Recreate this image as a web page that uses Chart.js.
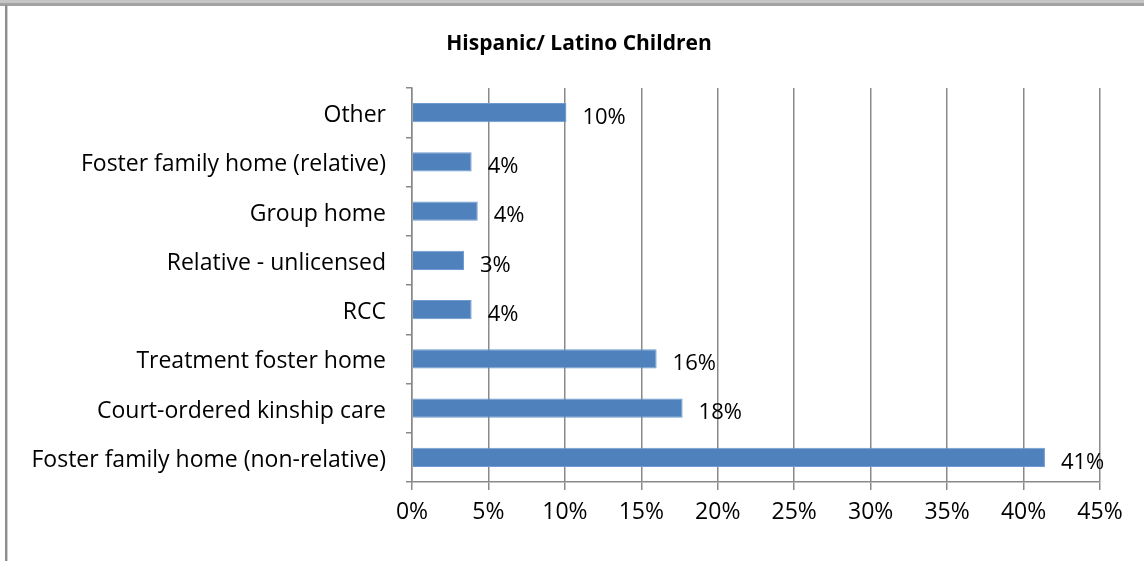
<!DOCTYPE html>
<html>
<head>
<meta charset="utf-8">
<script src="https://cdn.jsdelivr.net/npm/chart.js@4.4.1/dist/chart.umd.min.js"></script>
<style>
  html, body { margin: 0; padding: 0; background: #fff; }
  #wrap { width: 1144px; height: 561px; }
</style>
</head>
<body>
<div id="wrap"><canvas id="placementChart" width="1144" height="561"></canvas></div>
<script>
// placement types, top to bottom
var placementLabels = [
     'Other',
     'Foster family home (relative)',
     'Group home',
     'Relative - unlicensed',
     'RCC',
     'Treatment foster home',
     'Court-ordered kinship care',
     'Foster family home (non-relative)'
];
// share of children in each placement, percent
var placementShare = [10.1, 3.9, 4.3, 3.4, 3.9, 16.0, 17.7, 41.4];
var axisMax = 45;
var axisStep = 5;
var chartTitle = 'Hispanic/ Latino Children';

var fontFamily = "'Open Sans', 'Liberation Sans', sans-serif";
var gridColor = '#898989';

// outer frame of the chart box, plus the title (centred on the whole box, not the canvas)
var framePlugin = {
     id: 'frame',
     beforeDraw: function(chart) {
          var ctx = chart.ctx;
          ctx.save();
          ctx.fillStyle = '#ffffff';
          ctx.fillRect(0, 0, chart.width, chart.height);
          ctx.fillStyle = '#c6c6c6';
          ctx.fillRect(0, 0, chart.width, 3);
          ctx.fillStyle = '#a2a2a2';
          ctx.fillRect(0, 3, chart.width, 3);
          ctx.fillStyle = '#8e8e8e';
          ctx.fillRect(5, 5, 2, chart.height - 5);
          ctx.fillStyle = '#cfcfcf';
          ctx.fillRect(7, 6, 1, chart.height - 6);

          ctx.font = 'bold 21px ' + fontFamily;
          ctx.fillStyle = '#000000';
          ctx.textAlign = 'center';
          ctx.textBaseline = 'middle';
          ctx.fillText(chartTitle, 579, 44);
          ctx.restore();
     }
};

// percent labels at the end of each bar
var valueLabelPlugin = {
     id: 'valueLabels',
     afterDatasetsDraw: function(chart) {
          var ctx = chart.ctx;
          var meta = chart.getDatasetMeta(0);
          ctx.save();
          ctx.font = '22px ' + fontFamily;
          ctx.fillStyle = '#000000';
          ctx.textAlign = 'left';
          ctx.textBaseline = 'middle';
          meta.data.forEach(function(bar, i) {
               var v = chart.data.datasets[0].data[i];
               ctx.fillText(Math.round(v) + '%', bar.x + 16, bar.y + 5);
          });
          ctx.restore();
     }
};

new Chart('placementChart', {
     type: 'bar',
     data: {
          labels: placementLabels,
          datasets: [{
               data: placementShare,
               backgroundColor: '#4f81bd',
               borderColor: '#6f9ad0',
               borderWidth: 1,
               borderSkipped: 'start',
               categoryPercentage: 1,
               barPercentage: 0.39
          }]
     },
     plugins: [framePlugin, valueLabelPlugin],
     options: {
          indexAxis: 'y',
          responsive: false,
          animation: false,
          devicePixelRatio: 1,
          layout: {
               padding: { left: 0, right: 44, top: 88, bottom: 0 }
          },
          plugins: {
               legend: { display: false },
               tooltip: { enabled: false },
               title: { display: false }
          },
          scales: {
               x: {
                    min: 0,
                    max: axisMax,
                    afterFit: function(scale) { scale.height = 79; },
                    border: { color: gridColor, width: 1.5 },
                    grid: {
                         color: gridColor,
                         lineWidth: 1.5,
                         tickLength: 8,
                         tickColor: gridColor
                    },
                    ticks: {
                         stepSize: axisStep,
                         color: '#000000',
                         padding: 9,
                         font: { family: fontFamily, size: 23 },
                         callback: function(v) { return v + '%'; }
                    }
               },
               y: {
                    afterFit: function(scale) { scale.width = 412; },
                    border: { color: gridColor, width: 1.5 },
                    grid: {
                         drawOnChartArea: false,
                         tickLength: 6,
                         color: gridColor,
                         lineWidth: 1.5
                    },
                    ticks: {
                         color: '#000000',
                         padding: 20,
                         labelOffset: 3,
                         font: { family: fontFamily, size: 23 }
                    }
               }
          }
     }
});
</script>
</body>
</html>
